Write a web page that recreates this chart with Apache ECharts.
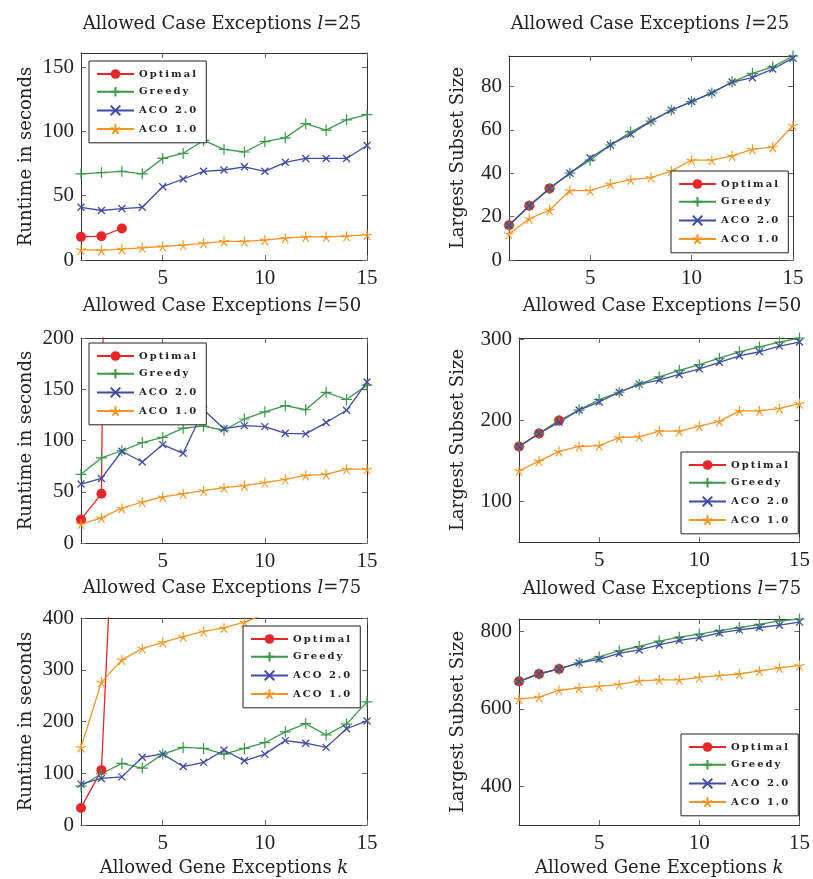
<!DOCTYPE html>
<html>
<head>
<meta charset="utf-8">
<script src="https://cdn.jsdelivr.net/npm/echarts@6/dist/echarts.min.js"></script>
<style>html,body{margin:0;padding:0;background:#fff}#c{width:813px;height:879px}</style>
</head>
<body>
<div id="c"></div>
<script>
// ---- data ----
const K = [1,2,3,4,5,6,7,8,9,10,11,12,13,14,15];
const seriesNames = ['Optimal','Greedy','ACO 2.0','ACO 1.0'];

// l = 25, runtime (s)
const opt25T   = [18, 18.5, 24.5];
const greedy25T = [67, 68, 69, 67, 79, 83, 93, 86, 84, 92, 95, 106, 101, 109, 113];
const aco2_25T = [41, 38.5, 40, 41, 57, 63, 69, 70, 72.5, 69, 76, 79, 79, 79, 89];
const aco1_25T = [8, 7.5, 8.5, 9.5, 10.5, 11.5, 13, 14.5, 14.5, 15.5, 17, 18, 18, 18.5, 19.5];
// l = 25, largest subset size
const opt25S   = [16, 25, 33];
const greedy25S = [16, 25, 33, 40, 46, 53, 59, 64, 69, 73, 77, 82, 86, 89, 94];
const aco2_25S = [16, 25, 33, 40, 47, 53, 58, 64, 69, 73, 77, 82, 84, 88, 93];
const aco1_25S = [12, 19, 23, 32, 32, 35, 37, 38, 41, 46, 46, 48, 51, 52, 62];
// l = 50, runtime (s)
const opt50T   = [23, 48, 2000];
const greedy50T = [67, 83, 90, 98, 103, 112, 114, 110, 121, 128, 134, 130, 147, 140, 154];
const aco2_50T = [57.5, 63, 89.5, 79, 96, 87.5, 130, 111.5, 114.5, 113.5, 107, 106.5, 117.5, 129.5, 157];
const aco1_50T = [18.5, 24.5, 34, 40, 45, 48, 51, 54, 56, 59, 62, 66, 67, 72, 72];
// l = 50, largest subset size
const opt50S   = [168, 184, 200];
const greedy50S = [168, 184, 200, 213, 226, 235, 245, 254, 262, 269, 277, 285, 291, 297, 302];
const aco2_50S = [168, 184, 198, 213, 223, 235, 245, 250, 257, 264, 272, 280, 285, 292, 297];
const aco1_50S = [138, 150, 162, 168, 169, 179, 180, 187, 187, 193, 199, 212, 212, 215, 221];
// l = 75, runtime (s)
const opt75T   = [33, 106, 960];
const greedy75T = [75, 99, 119, 110, 137, 150, 148, 137, 148, 159, 180, 196, 174, 195, 238];
const aco2_75T = [79, 90, 93, 131, 137, 113, 121, 145, 124, 137, 163, 158, 150, 186, 201];
const aco1_75T = [150, 276, 319, 341, 353, 364, 374, 381, 392, 407, 418, 428, 437, 447, 457];
// l = 75, largest subset size
const opt75S   = [671, 690, 703];
const greedy75S = [671, 690, 703, 719, 734, 750, 761, 775, 785, 793, 802, 810, 818, 827, 832];
const aco2_75S = [671, 690, 703, 719, 728, 743, 752, 765, 777, 784, 796, 804, 810, 816, 824];
const aco1_75S = [625, 630, 648, 654, 658, 663, 672, 675, 675, 681, 686, 690, 698, 706, 712];

// tick labels
const xTicks = [5, 10, 15];
const yTicks25T = [0, 50, 100, 150];
const yTicks25S = [0, 20, 40, 60, 80];
const yTicks50T = [0, 50, 100, 150, 200];
const yTicks50S = [100, 200, 300];
const yTicks75T = [0, 100, 200, 300, 400];
const yTicks75S = [400, 600, 800];

const titles = ['25', '25', '50', '50', '75', '75'];
const yNameT = 'Runtime in seconds';
const yNameS = 'Largest Subset Size';
const xName = 'Allowed Gene Exceptions ';

// ---- layout / style ----
const panels = [
  {data:[opt25T,greedy25T,aco2_25T,aco1_25T], ymin:0, ymax:161, yt:yTicks25T, yName:yNameT,
   grid:{left:81, top:53, width:286, height:207}, legend:{left:89, top:61}, tx:222, ty:24, nameGap:46},
  {data:[opt25S,greedy25S,aco2_25S,aco1_25S], ymin:0, ymax:94, yt:yTicks25S, yName:yNameS,
   grid:{left:509, top:56, width:284, height:204}, legend:{left:671, top:171}, tx:650, ty:24, nameGap:42},
  {data:[opt50T,greedy50T,aco2_50T,aco1_50T], ymin:0, ymax:200, yt:yTicks50T, yName:yNameT,
   grid:{left:81, top:338, width:286, height:205}, legend:{left:89, top:343}, tx:222, ty:306, nameGap:46},
  {data:[opt50S,greedy50S,aco2_50S,aco1_50S], ymin:50, ymax:302, yt:yTicks50S, yName:yNameS,
   grid:{left:519, top:338, width:285, height:204}, legend:{left:681, top:452}, tx:662, ty:306, nameGap:52},
  {data:[opt75T,greedy75T,aco2_75T,aco1_75T], ymin:0, ymax:400, yt:yTicks75T, yName:yNameT,
   grid:{left:81, top:618, width:286, height:207}, legend:{left:243, top:626}, tx:222, ty:588, nameGap:46, xlab:true},
  {data:[opt75S,greedy75S,aco2_75S,aco1_75S], ymin:300, ymax:832, yt:yTicks75S, yName:yNameS,
   grid:{left:519, top:619, width:285, height:206}, legend:{left:681, top:734}, tx:662, ty:589, nameGap:52, xlab:true}
];

const PLUS = 'path://M-1,0L1,0M0,-1L0,1';
const CROSS = 'path://M-1,-1L1,1M-1,1L1,-1';
const STAR = 'path://M0,0L0,-1M0,0L0.951,-0.309M0,0L0.588,0.809M0,0L-0.588,0.809M0,0L-0.951,-0.309';
const styles = [
  {color:'#e8262a', symbol:'circle', size:10, bw:0},
  {color:'#3a9a48', symbol:PLUS, size:11, bw:1.2},
  {color:'#3f4ba8', symbol:CROSS, size:7, bw:1.3},
  {color:'#f7931e', symbol:STAR, size:10, bw:1.1}
];

const FRAME = '#333';
const TICKFONT = {fontFamily:'Liberation Serif', fontSize:21, color:'#222'};
const NAMEFONT = {fontFamily:'DejaVu Serif', fontSize:18, color:'#222'};

const grid = [], xAxis = [], yAxis = [], series = [], legend = [], graphic = [];
panels.forEach((p, i) => {
  grid.push(Object.assign({show:false, containLabel:false}, p.grid));
  const xBase = {type:'value', min:1, max:15, gridIndex:i,
    axisLine:{show:true, onZero:false, lineStyle:{color:FRAME, width:1}},
    splitLine:{show:false}};
  xAxis.push(Object.assign({}, xBase, {position:'bottom',
    axisTick:{show:true, inside:true, length:5, customValues:xTicks, lineStyle:{color:'#666'}},
    axisLabel:{show:true, customValues:xTicks, margin:8, ...TICKFONT},
    name: p.xlab ? xName + '{i|k}' : '', nameLocation:'middle', nameGap:34,
    nameTextStyle:{...NAMEFONT, rich:{i:{fontStyle:'italic', fontFamily:'DejaVu Serif', fontSize:18, color:'#222'}}}
  }));
  xAxis.push(Object.assign({}, xBase, {position:'top',
    axisTick:{show:true, inside:true, length:5, customValues:xTicks, lineStyle:{color:'#666'}},
    axisLabel:{show:false}}));
  const yBase = {type:'value', min:p.ymin, max:p.ymax, gridIndex:i,
    axisLine:{show:true, onZero:false, lineStyle:{color:FRAME, width:1}},
    splitLine:{show:false}};
  yAxis.push(Object.assign({}, yBase, {position:'left',
    axisTick:{show:true, inside:true, length:5, customValues:p.yt, lineStyle:{color:'#666'}},
    axisLabel:{show:true, customValues:p.yt, margin:7, ...TICKFONT},
    name:p.yName, nameLocation:'middle', nameGap:p.nameGap, nameTextStyle:{...NAMEFONT}
  }));
  yAxis.push(Object.assign({}, yBase, {position:'right',
    axisTick:{show:true, inside:true, length:5, customValues:p.yt, lineStyle:{color:'#666'}},
    axisLabel:{show:false}}));
  p.data.forEach((arr, s) => {
    const st = styles[s];
    series.push({
      type:'line', name:seriesNames[s], xAxisIndex:2*i, yAxisIndex:2*i,
      data: arr.map((v, j) => [K[j], v]),
      symbol:st.symbol, symbolSize:st.size, showSymbol:true, clip:true,
      lineStyle:{color:st.color, width:1.3},
      itemStyle:{color:st.color, borderColor:st.color, borderWidth:st.bw},
      emphasis:{disabled:true}, animation:false
    });
  });
  legend.push({
    left:p.legend.left, top:p.legend.top, orient:'vertical',
    data:seriesNames, itemWidth:37, itemHeight:12, itemGap:7,
    padding:[8, 10, 8, 7], backgroundColor:'#fff', borderColor:'#222', borderWidth:1,
    selectedMode:false, z:10,
    formatter: n => n.split('').join('\u2009'),
    textStyle:{fontFamily:'DejaVu Serif', fontWeight:'bold', fontSize:10, color:'#222'}
  });
  graphic.push({
    type:'text', x:p.tx, y:p.ty, z:100,
    style:{text:'Allowed Case Exceptions {i|l}=' + titles[i], align:'center', verticalAlign:'middle',
      font:'18px "DejaVu Serif"', fill:'#222',
      rich:{i:{fontStyle:'italic', fontFamily:'DejaVu Serif', fontSize:18, fill:'#222'}}}
  });
});

const chart = echarts.init(document.getElementById('c'), null, {renderer:'canvas'});
chart.setOption({animation:false, backgroundColor:'#fff', grid, xAxis, yAxis, series, legend, graphic});
</script>
</body>
</html>
